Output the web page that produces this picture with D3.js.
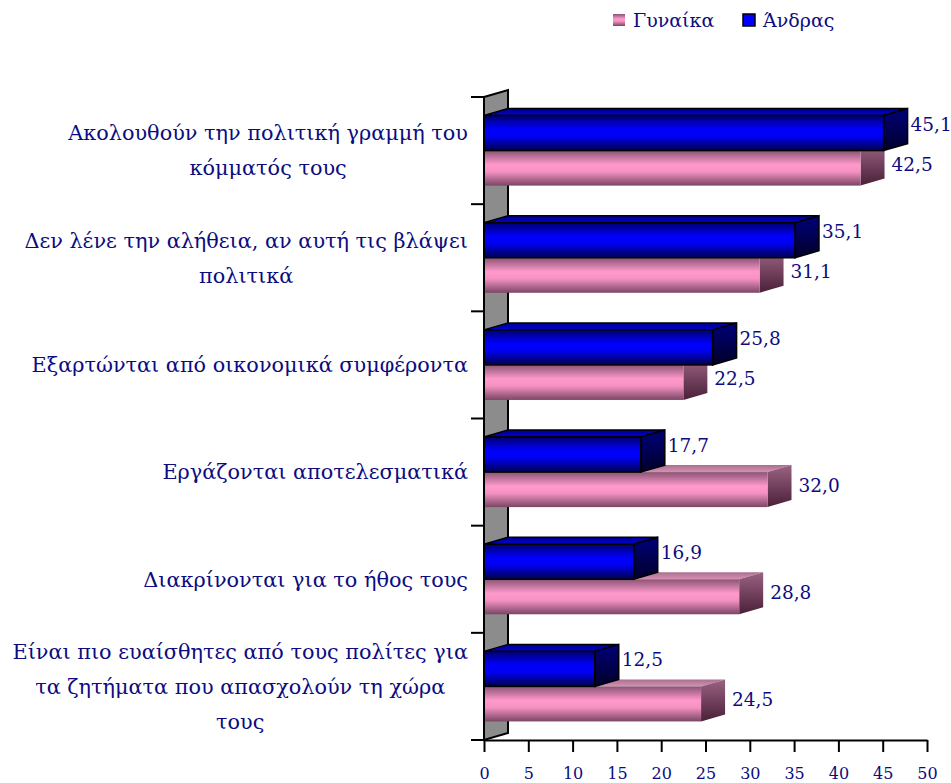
<!DOCTYPE html>
<html>
<head>
<meta charset="utf-8">
<script src="https://cdn.jsdelivr.net/npm/d3@7"></script>
<style>
  body { margin: 0; background: #fff; }
  svg text { font-family: "DejaVu Serif", serif; fill: #0c0c80; }
</style>
</head>
<body>
<div id="chart"></div>
<script>
//data
const categories = [
  "Ακολουθούν την πολιτική γραμμή του\nκόμματός τους",
  "Δεν λένε την αλήθεια, αν αυτή τις βλάψει\nπολιτικά",
  "Εξαρτώνται από οικονομικά συμφέροντα",
  "Εργάζονται αποτελεσματικά",
  "Διακρίνονται για το ήθος τους",
  "Είναι πιο ευαίσθητες από τους πολίτες για\nτα ζητήματα που απασχολούν τη χώρα\nτους"
];
const seriesNames = ["Γυναίκα", "Άνδρας"];
const womenValues = [42.5, 31.1, 22.5, 32.0, 28.8, 24.5];
const menValues = [45.1, 35.1, 25.8, 17.7, 16.9, 12.5];
const xTicks = [0, 5, 10, 15, 20, 25, 30, 35, 40, 45, 50];

//dimensions
const width = 951, height = 783;
const dx = 24, dy = -7; // 3d depth offset

const svg = d3.select("#chart").append("svg")
    .attr("width", width)
    .attr("height", height);

const x = d3.scaleLinear().domain([0, 50]).range([484, 927]);
const y = d3.scaleBand().domain(categories).range([97, 740]);
const inner = d3.scaleBand().domain(["Άνδρας", "Γυναίκα"])
    .range([0, y.bandwidth()]).paddingOuter(0.53);

//gradients
const defs = svg.append("defs");
function vgrad(id, stops) {
  const g = defs.append("linearGradient").attr("id", id)
      .attr("x1", 0).attr("y1", 0).attr("x2", 0).attr("y2", 1);
  stops.forEach(s => g.append("stop").attr("offset", s[0]).attr("stop-color", s[1]));
}
vgrad("blueFront", [[0, "#000070"], [0.4, "#0000ff"], [0.6, "#0000f0"], [1, "#00004a"]]);
vgrad("blueSide", [[0, "#00007a"], [1, "#00002a"]]);
vgrad("blueTop", [[0, "#000090"], [1, "#0000d0"]]);
vgrad("pinkFront", [[0, "#8a5474"], [0.4, "#ff99cc"], [0.6, "#f592c3"], [1, "#7a4664"]]);
vgrad("pinkSide", [[0, "#9a6282"], [1, "#4a2038"]]);
vgrad("pinkTop", [[0, "#a8708e"], [1, "#d890b4"]]);

//wall
const y0 = y.range()[0], y1 = y.range()[1], xl = x(0);
svg.append("path")
    .attr("d", `M${xl},${y0}L${xl + dx},${y0 + dy}L${xl + dx},${y1 + dy}L${xl},${y1}Z`)
    .attr("fill", "#8c8c8c")
    .attr("stroke", "black")
    .attr("stroke-width", 2);

//bars
const bars = [];
categories.forEach((c, i) => {
  bars.push({cat: c, s: "Γυναίκα", v: womenValues[i]});
  bars.push({cat: c, s: "Άνδρας", v: menValues[i]});
});

const style = {
  "Γυναίκα": {front: "url(#pinkFront)", side: "url(#pinkSide)", top: "url(#pinkTop)", stroke: "none", lx: 7, ly: -4},
  "Άνδρας": {front: "url(#blueFront)", side: "url(#blueSide)", top: "url(#blueTop)", stroke: "black", lx: 3, ly: -9}
};

const g = svg.selectAll("g.bar")
  .data(bars)
  .join("g")
    .attr("class", "bar");

g.each(function(d) {
  const sel = d3.select(this);
  const st = style[d.s];
  const top = y(d.cat) + inner(d.s), bh = inner.bandwidth();
  const a = x(0), b = x(d.v);
  sel.append("path") // top face
      .attr("d", `M${a},${top}L${b},${top}L${b + dx},${top + dy}L${a + dx},${top + dy}Z`)
      .attr("fill", st.top).attr("stroke", st.stroke).attr("stroke-width", 1.5);
  sel.append("path") // side face
      .attr("d", `M${b},${top}L${b + dx},${top + dy}L${b + dx},${top + bh + dy}L${b},${top + bh}Z`)
      .attr("fill", st.side).attr("stroke", st.stroke).attr("stroke-width", 1.5);
  sel.append("rect") // front face
      .attr("x", a).attr("y", top)
      .attr("width", b - a).attr("height", bh)
      .attr("fill", st.front).attr("stroke", st.stroke).attr("stroke-width", 1.5);
  sel.append("text")
      .attr("x", b + dx + st.lx)
      .attr("y", top + bh / 2 + st.ly)
      .attr("dy", "0.35em")
      .style("font-size", "18.5px")
      .text(d3.format(".1f")(d.v).replace(".", ","));
});

//x axis
const xAxis = svg.append("g")
    .attr("transform", `translate(0,${y1})`)
    .call(d3.axisBottom(x).tickValues(xTicks).tickSize(12).tickSizeOuter(0).tickPadding(16));
xAxis.select(".domain").attr("stroke-width", 2);
xAxis.selectAll(".tick line").attr("stroke-width", 2);
xAxis.selectAll(".tick text")
    .style("font-size", "16px")
    .style("font-family", "DejaVu Serif, serif")
    .attr("fill", "#0c0c80");

//y axis: ticks at category boundaries
const yTickPos = categories.map(c => y(c)).concat([y1]);
svg.append("line")
    .attr("x1", xl).attr("x2", xl).attr("y1", y0).attr("y2", y1)
    .attr("stroke", "black").attr("stroke-width", 2);
svg.selectAll("line.ytick")
  .data(yTickPos)
  .join("line")
    .attr("class", "ytick")
    .attr("x1", xl - 13).attr("x2", xl)
    .attr("y1", d => d).attr("y2", d => d)
    .attr("stroke", "black").attr("stroke-width", 2);

//category labels
const labelRight = 468, lineH = 35;
categories.forEach(c => {
  const lines = c.split("\n");
  const t = svg.append("text").style("font-size", "20.8px");
  const spans = lines.map(l => t.append("tspan").text(l));
  const maxW = d3.max(spans, s => s.node().getComputedTextLength());
  const cx = labelRight - maxW / 2;
  const cy = y(c) + y.bandwidth() / 2;
  spans.forEach((s, i) => {
    s.attr("x", cx)
     .attr("y", cy + (i - (lines.length - 1) / 2) * lineH)
     .attr("dy", "0.35em");
  });
  t.attr("text-anchor", "middle");
});

//legend
const legendItems = [
  {name: seriesNames[0], x: 613, fill: "url(#pinkFront)", stroke: "none"},
  {name: seriesNames[1], x: 743, fill: "#0000ff", stroke: "black"}
];
const lg = svg.selectAll("g.legend")
  .data(legendItems)
  .join("g")
    .attr("class", "legend")
    .attr("transform", d => `translate(${d.x},14)`);
lg.append("rect")
    .attr("width", 12).attr("height", 12)
    .attr("fill", d => d.fill).attr("stroke", d => d.stroke).attr("stroke-width", 1.5);
lg.append("text")
    .attr("x", 20).attr("y", 6).attr("dy", "0.35em")
    .style("font-size", "19px")
    .text(d => d.name);
</script>
</body>
</html>
